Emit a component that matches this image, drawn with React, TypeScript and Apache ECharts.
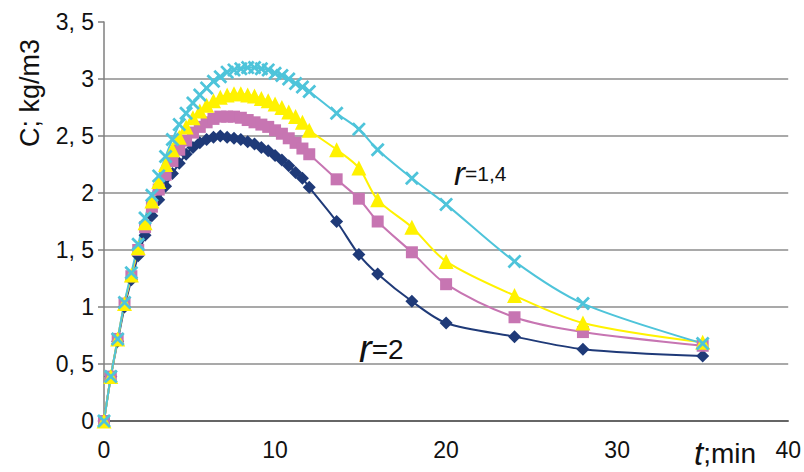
import React, { useEffect, useRef } from "react";
import * as echarts from "echarts";

const times = [0, 0.4, 0.8, 1.2, 1.6, 2.0, 2.4, 2.8, 3.2, 3.6, 4.0, 4.4, 4.8, 5.2, 5.6, 6.0, 6.4, 6.8, 7.2, 7.6, 8.0, 8.4, 8.8, 9.2, 9.6, 10.0, 10.4, 10.8, 11.2, 11.6, 12.0, 13.6, 14.9, 16, 18, 20, 24, 28, 35];

const seriesR2 = [0, 0.39, 0.70, 1.00, 1.24, 1.45, 1.63, 1.80, 1.94, 2.06, 2.17, 2.26, 2.34, 2.40, 2.44, 2.47, 2.49, 2.50, 2.49, 2.48, 2.47, 2.45, 2.43, 2.40, 2.37, 2.33, 2.29, 2.24, 2.18, 2.13, 2.05, 1.75, 1.46, 1.29, 1.05, 0.86, 0.74, 0.63, 0.57];
const seriesPink = [0, 0.39, 0.72, 1.03, 1.27, 1.50, 1.70, 1.88, 2.03, 2.16, 2.28, 2.38, 2.46, 2.53, 2.58, 2.62, 2.65, 2.67, 2.67, 2.67, 2.66, 2.64, 2.62, 2.60, 2.58, 2.55, 2.52, 2.48, 2.44, 2.39, 2.34, 2.12, 1.95, 1.75, 1.48, 1.20, 0.91, 0.78, 0.66];
const seriesYellow = [0, 0.39, 0.72, 1.03, 1.28, 1.52, 1.74, 1.93, 2.10, 2.25, 2.38, 2.49, 2.58, 2.66, 2.72, 2.77, 2.81, 2.84, 2.86, 2.87, 2.87, 2.86, 2.85, 2.83, 2.81, 2.78, 2.75, 2.71, 2.67, 2.62, 2.55, 2.38, 2.22, 1.94, 1.70, 1.40, 1.10, 0.86, 0.69];
const seriesR14 = [0, 0.39, 0.72, 1.04, 1.30, 1.55, 1.78, 1.98, 2.15, 2.32, 2.47, 2.60, 2.70, 2.79, 2.86, 2.92, 2.98, 3.02, 3.06, 3.08, 3.09, 3.10, 3.10, 3.09, 3.08, 3.05, 3.03, 3.00, 2.96, 2.93, 2.89, 2.70, 2.56, 2.38, 2.13, 1.90, 1.40, 1.03, 0.68];

const yTickLabels: Record<string, string> = {
  "0": "0", "0.5": "0, 5", "1": "1", "1.5": "1, 5", "2": "2", "2.5": "2, 5", "3": "3", "3.5": "3, 5",
};

const X_SYMBOL = "path://M0,1.4L1.4,0L5,3.6L8.6,0L10,1.4L6.4,5L10,8.6L8.6,10L5,6.4L1.4,10L0,8.6L3.6,5Z";

function pairs(vals: number[]) {
  return times.map((t, i) => [t, vals[i]]);
}

export default function App() {
  const ref = useRef<HTMLDivElement>(null);
  useEffect(() => {
    if (!ref.current) return;
    const chart = echarts.init(ref.current, null, { renderer: "svg" });
    const font = "'Liberation Sans', Arial, sans-serif";
    const mk = (name: string, vals: number[], color: string, symbol: string, size: number) => ({
      name,
      type: "line",
      data: pairs(vals),
      smooth: 0.3,
      symbol,
      symbolSize: size,
      showAllSymbol: true,
      lineStyle: { color, width: 2 },
      itemStyle: { color, borderWidth: 0 },
    });
    chart.setOption({
      animation: false,
      backgroundColor: "#ffffff",
      textStyle: { fontFamily: font },
      grid: { left: 104, right: 14, top: 22, bottom: 51, containLabel: false },
      xAxis: {
        type: "value",
        min: 0,
        max: 40,
        interval: 10,
        axisLine: { show: true, lineStyle: { color: "#333333", width: 1.5 } },
        axisTick: { show: false },
        splitLine: { show: false },
        axisLabel: { fontSize: 23, color: "#111111", margin: 17, fontFamily: font },
      },
      yAxis: {
        type: "value",
        min: 0,
        max: 3.5,
        interval: 0.5,
        axisLine: { show: true, lineStyle: { color: "#7f7f7f", width: 1.5 } },
        axisTick: { show: true, inside: false, length: 6, lineStyle: { color: "#7f7f7f", width: 1.5 } },
        splitLine: { show: true, showMinLine: false, showMaxLine: false, lineStyle: { color: "#8c8c8c", width: 1.5 } },
        axisLabel: {
          fontSize: 23,
          color: "#111111",
          margin: 10,
          fontFamily: font,
          formatter: (v: number) => yTickLabels[String(v)] ?? String(v),
        },
      },
      series: [
        mk("r=2", seriesR2, "#1f3a78", "diamond", 13),
        mk("series2", seriesPink, "#c775b2", "rect", 12),
        mk("series3", seriesYellow, "#fff200", "triangle", 15),
        mk("r=1,4", seriesR14, "#4ec4da", X_SYMBOL, 14),
      ],
      graphic: [
        {
          type: "text",
          x: 30,
          y: 93,
          rotation: Math.PI / 2,
          style: {
            text: "C; kg/m3",
            fontSize: 27,
            fontFamily: font,
            fill: "#111111",
            align: "center",
            verticalAlign: "middle",
          },
        },
        {
          type: "text",
          x: 694,
          y: 453,
          style: {
            text: "{a|t}{b|;min}",
            fontFamily: font,
            verticalAlign: "middle",
            rich: {
              a: { fontSize: 33, lineHeight: 30, fontStyle: "italic", fontFamily: font, fill: "#111111" },
              b: { fontSize: 28, lineHeight: 30, fontFamily: font, fill: "#111111" },
            },
          },
        },
        {
          type: "text",
          x: 454,
          y: 173,
          style: {
            text: "{a|r}{b|=1,4}",
            fontFamily: font,
            verticalAlign: "middle",
            rich: {
              a: { fontSize: 33, fontStyle: "italic", fontFamily: font, fill: "#111111" },
              b: { fontSize: 21, fontFamily: font, fill: "#111111" },
            },
          },
        },
        {
          type: "text",
          x: 359,
          y: 349,
          style: {
            text: "{a|r}{b|=2}",
            fontFamily: font,
            verticalAlign: "middle",
            rich: {
              a: { fontSize: 38, fontStyle: "italic", fontFamily: font, fill: "#111111" },
              b: { fontSize: 28, fontFamily: font, fill: "#111111" },
            },
          },
        },
      ],
    });
    return () => chart.dispose();
  }, []);
  return <div ref={ref} style={{ width: 804, height: 472, position: "absolute", left: 0, top: 0 }} />;
}
